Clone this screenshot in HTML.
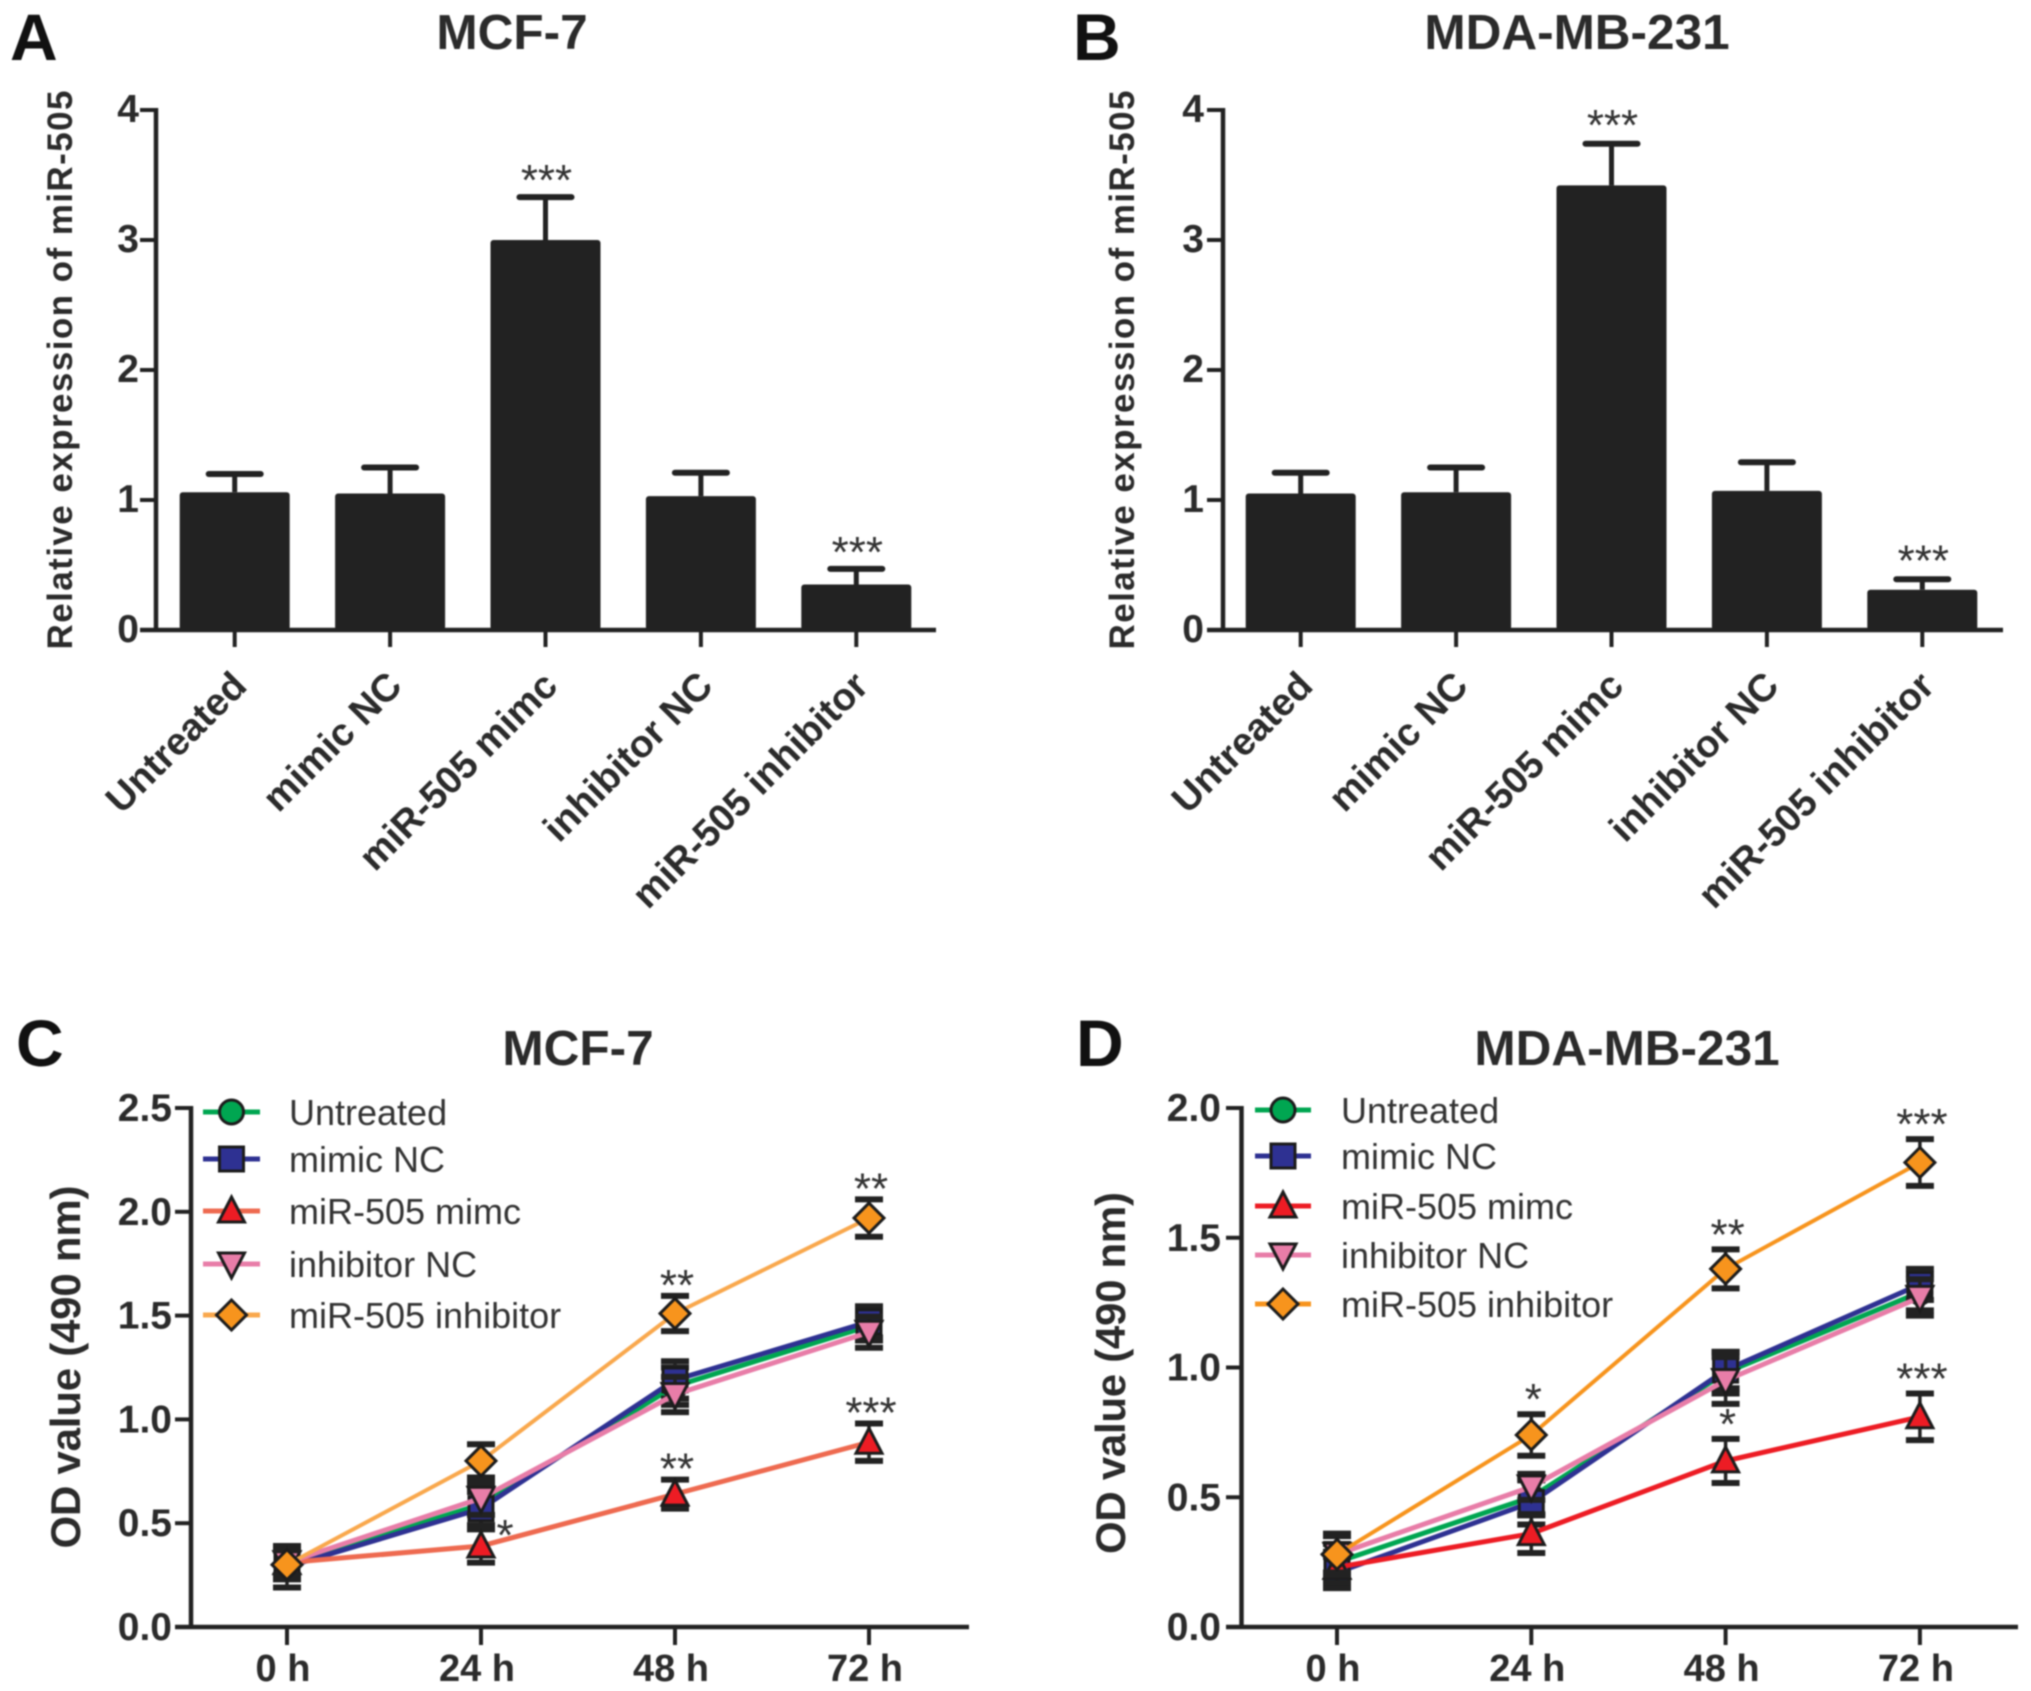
<!DOCTYPE html>
<html lang="en">
<head>
<meta charset="utf-8">
<title>miR-505 expression and cell viability</title>
<style>
html,body{margin:0;padding:0;background:#fff;width:2031px;height:1691px;overflow:hidden}
svg{display:block;filter:blur(0.7px)}
text{font-family:"Liberation Sans",Arial,sans-serif}
</style>
</head>
<body>
<svg id="figure" xmlns="http://www.w3.org/2000/svg" width="2031" height="1691" viewBox="0 0 2031 1691"></svg>
<script>
// ---------- Panel A / B data ----------
const barCategories = ['Untreated', 'mimic NC', 'miR-505 mimc', 'inhibitor NC', 'miR-505 inhibitor'];
const barTicks = [0, 1, 2, 3, 4];
const aMeans = [1.06, 1.05, 3.0, 1.03, 0.35];
const aUpper = [1.2, 1.25, 3.33, 1.21, 0.47];
const aStars = ['', '', '***', '', '***'];
const bMeans = [1.05, 1.06, 3.42, 1.07, 0.31];
const bUpper = [1.21, 1.25, 3.74, 1.29, 0.39];
const bStars = ['', '', '***', '', '***'];

// ---------- Panel C / D data ----------
const timeLabels = ['0 h', '24 h', '48 h', '72 h'];
const seriesNames = ['Untreated', 'mimic NC', 'miR-505 mimc', 'inhibitor NC', 'miR-505 inhibitor'];
const cTicks = [0, 0.5, 1, 1.5, 2, 2.5];
const cUntreated = [0.3, 0.59, 1.16, 1.45];
const cMimicNC = [0.29, 0.57, 1.19, 1.47];
const cMimic = [0.31, 0.39, 0.64, 0.89];
const cInhibitorNC = [0.31, 0.62, 1.12, 1.42];
const cInhibitor = [0.3, 0.8, 1.51, 1.97];
const cUntreatedErr = [0.07, 0.1, 0.09, 0.07];
const cMimicNCErr = [0.1, 0.08, 0.09, 0.075];
const cMimicErr = [0.07, 0.08, 0.07, 0.09];
const cInhibitorNCErr = [0.06, 0.08, 0.085, 0.075];
const cInhibitorErr = [0.07, 0.08, 0.085, 0.09];
const cInhibitorStars = ['', '', '**', '**'];
const cMimicStars = ['', '*', '**', '***'];
const dTicks = [0, 0.5, 1, 1.5, 2];
const dUntreated = [0.25, 0.5, 0.98, 1.29];
const dMimicNC = [0.21, 0.48, 0.99, 1.32];
const dMimic = [0.23, 0.36, 0.64, 0.81];
const dInhibitorNC = [0.28, 0.54, 0.95, 1.27];
const dInhibitor = [0.28, 0.74, 1.38, 1.79];
const dUntreatedErr = [0.07, 0.07, 0.08, 0.07];
const dMimicNCErr = [0.06, 0.085, 0.07, 0.06];
const dMimicErr = [0.06, 0.075, 0.085, 0.09];
const dInhibitorNCErr = [0.07, 0.05, 0.09, 0.07];
const dInhibitorErr = [0.08, 0.08, 0.075, 0.09];
const dInhibitorStars = ['', '*', '**', '***'];
const dMimicStars = ['', '', '*', '***'];

const svg = document.getElementById('figure');
const INK = '#222222';
const TXT = '#2b2b2b';

function mk(parent, tag, attrs, name, text) {
  const e = document.createElementNS('http://www.w3.org/2000/svg', tag);
  for (const k in attrs) e.setAttribute(k, attrs[k]);
  
  
  if (text !== undefined) e.textContent = text;
  parent.appendChild(e);
  return e;
}
function label(p, x, y, str, size, weight, anchor, name, extra) {
  return mk(p, 'text', Object.assign({x: x, y: y, 'font-size': size, 'font-weight': weight, 'text-anchor': anchor, fill: TXT}, extra || {}), name, str);
}
function stroke(p, x1, y1, x2, y2, w, name, color) {
  return mk(p, 'line', {x1: x1, y1: y1, x2: x2, y2: y2, stroke: color || INK, 'stroke-width': w, 'stroke-linecap': 'butt'}, name);
}

function frame(g, o) {
  label(g, o.letterX, o.letterY, o.letter, 66, 'bold', 'start', 'panel-letter', {fill: '#111'});
  label(g, o.titleX, o.titleY, o.title, 49.5, 'bold', 'middle', 'panel-title');
  const ylab = label(g, 0, 0, o.yTitle, o.yTitleSize, 'bold', 'middle', 'y-axis-title', {textLength: o.yTitleLen, lengthAdjust: 'spacing'});
  ylab.setAttribute('transform', 'translate(' + o.yTitleX + ',' + o.yTitleY + ') rotate(-90)');
  stroke(g, o.axisX, o.yTop - 2, o.axisX, o.yBase + 2, 4.5, 'y-axis-line');
  stroke(g, o.xStart, o.yBase, o.xEnd, o.yBase, 4.5, 'x-axis-line');
  const y = v => o.yBase - (v / o.yMax) * (o.yBase - o.yTop);
  o.ticks.forEach(t => {
    stroke(g, o.xStart, y(t), o.axisX, y(t), 4, 'y-tick');
    label(g, o.tickRight, y(t) + o.tickDy, t.toFixed(o.decimals), 39, 'bold', 'end', 'y-tick-label');
  });
  return y;
}

function barPanel(o) {
  const g = mk(svg, 'g', {}, o.name);
  const y = frame(g, o);
  const x = i => o.bandStart + o.step * (i + 0.5);
  barCategories.forEach((c, i) => {
    stroke(g, x(i), o.yBase, x(i), o.yBase + 17, 4, 'x-tick');
    stroke(g, x(i), y(o.upper[i]), x(i), y(o.means[i]), 5, 'error-bar-stem');
    mk(g, 'line', {x1: x(i) - 26, y1: y(o.upper[i]), x2: x(i) + 26, y2: y(o.upper[i]), stroke: INK, 'stroke-width': 6, 'stroke-linecap': 'round'}, 'error-bar-cap');
    mk(g, 'rect', {x: x(i) - 55, y: y(o.means[i]), width: 110, height: o.yBase - y(o.means[i]), fill: INK, rx: 3}, 'bar-' + c.toLowerCase().replace(/ /g, '-'));
    const px = x(i) + 14, py = o.yBase + 58;
    const t = label(g, 0, 0, c, 38.5, 'bold', 'end', 'x-tick-label');
    t.setAttribute('transform', 'translate(' + px + ',' + py + ') rotate(-45)');
    if (o.stars[i]) label(g, x(i) + 1, y(o.upper[i]) - o.starGap, o.stars[i], 44, 'normal', 'middle', 'significance-stars', {fill: '#333'});
  });
}

const markerFill = ['#00a651', '#2e3192', '#ed1c24', '#e87da8', '#f7941d'];
function marker(g, kind, cx, cy, fill, name) {
  const st = {fill: fill, stroke: '#1c1c1c', 'stroke-width': 3, 'stroke-linejoin': 'miter'};
  if (kind === 0) return mk(g, 'circle', Object.assign({cx: cx, cy: cy, r: 12}, st), name);
  if (kind === 1) return mk(g, 'rect', Object.assign({x: cx - 12, y: cy - 12, width: 24, height: 24}, st), name);
  let pts;
  if (kind === 2) pts = [[0, -14], [13, 11], [-13, 11]];
  if (kind === 3) pts = [[-13, -11], [13, -11], [0, 14]];
  if (kind === 4) pts = [[0, -15], [15, 0], [0, 15], [-15, 0]];
  return mk(g, 'polygon', Object.assign({points: pts.map(p => (cx + p[0]) + ',' + (cy + p[1])).join(' ')}, st), name);
}

function linePanel(o) {
  const g = mk(svg, 'g', {}, o.name);
  const y = frame(g, o);
  const x = i => o.x0 + o.step * i;
  timeLabels.forEach((t, i) => {
    stroke(g, x(i), o.yBase, x(i), o.yBase + 18, 4, 'x-tick');
    label(g, x(i) - 4, 1681, t, 38, 'bold', 'middle', 'x-tick-label');
  });
  o.series.forEach((vals, s) => {
    const sg = mk(g, 'g', {}, 'series-' + seriesNames[s].toLowerCase().replace(/ /g, '-'));
    mk(sg, 'polyline', {points: vals.map((v, i) => x(i) + ',' + y(v)).join(' '), fill: 'none', stroke: o.lineColors[s], 'stroke-width': s === 4 ? 4 : 5}, 'series-line');
    vals.forEach((v, i) => {
      const e = o.errs[s][i];
      stroke(sg, x(i), y(v + e), x(i), y(v - e), 3.5, 'error-bar-stem');
      stroke(sg, x(i) - 14, y(v + e), x(i) + 14, y(v + e), 6, 'error-bar-cap');
      stroke(sg, x(i) - 14, y(v - e), x(i) + 14, y(v - e), 6, 'error-bar-cap');
      marker(sg, s, x(i), y(v), markerFill[s], 'data-point');
    });
  });
  o.starSets.forEach(set => {
    set.marks.forEach((m, i) => {
      if (!m) return;
      const side = (o.sideStar === m && set.series === 2);
      const top = set.vals[i] + set.errs[i];
      label(g, x(i) + (side ? 24 : 2), side ? y(set.vals[i]) + 4 : y(top) + o.starGap, m, 44, 'normal', 'middle', 'significance-stars', {fill: '#333'});
    });
  });
  seriesNames.forEach((n, s) => {
    const r = o.legendRows[s];
    const lg = mk(g, 'g', {}, 'legend-entry');
    stroke(lg, o.legendLine[0], r, o.legendLine[1], r, 5, 'legend-line', o.lineColors[s]);
    marker(lg, s, (o.legendLine[0] + o.legendLine[1]) / 2, r, markerFill[s], 'legend-marker');
    label(lg, o.legendText, r + 13, n, 36, 'normal', 'start', 'legend-label', {fill: '#333'});
  });
}

barPanel({
  name: 'panel-a', letter: 'A', letterX: 10, letterY: 60, title: 'MCF-7', titleX: 512, titleY: 49,
  yTitle: 'Relative expression of miR-505', yTitleSize: 35, yTitleLen: 559, yTitleX: 72, yTitleY: 370,
  axisX: 156, xStart: 140, xEnd: 936, yTop: 110, yBase: 630, yMax: 4, ticks: barTicks, decimals: 0, tickRight: 139, tickDy: 12,
  bandStart: 157, step: 155.4, means: aMeans, upper: aUpper, stars: aStars, starGap: 2
});
barPanel({
  name: 'panel-b', letter: 'B', letterX: 1073, letterY: 60, title: 'MDA-MB-231', titleX: 1577, titleY: 49,
  yTitle: 'Relative expression of miR-505', yTitleSize: 35, yTitleLen: 559, yTitleX: 1134, yTitleY: 370,
  axisX: 1223, xStart: 1207, xEnd: 2003, yTop: 110, yBase: 630, yMax: 4, ticks: barTicks, decimals: 0, tickRight: 1204, tickDy: 12,
  bandStart: 1223, step: 155.4, means: bMeans, upper: bUpper, stars: bStars, starGap: 4
});
linePanel({
  name: 'panel-c', letter: 'C', letterX: 16, letterY: 1066, title: 'MCF-7', titleX: 578, titleY: 1065,
  yTitle: 'OD value (490 nm)', yTitleSize: 42, yTitleLen: 363, yTitleX: 80, yTitleY: 1367,
  axisX: 191, xStart: 175, xEnd: 969, yTop: 1108, yBase: 1627, yMax: 2.5, ticks: cTicks, decimals: 1, tickRight: 172, tickDy: 13,
  x0: 287, step: 194,
  series: [cUntreated, cMimicNC, cMimic, cInhibitorNC, cInhibitor],
  errs: [cUntreatedErr, cMimicNCErr, cMimicErr, cInhibitorNCErr, cInhibitorErr],
  lineColors: ['#00a651', '#2e3192', '#ee6a50', '#e87da8', '#f9a84d'],
  starSets: [
    {series: 4, marks: cInhibitorStars, vals: cInhibitor, errs: cInhibitorErr},
    {series: 2, marks: cMimicStars, vals: cMimic, errs: cMimicErr}
  ],
  sideStar: '*', starGap: 4,
  legendRows: [1112, 1159, 1211, 1264, 1315], legendLine: [203, 260], legendText: 289
});
linePanel({
  name: 'panel-d', letter: 'D', letterX: 1076, letterY: 1066, title: 'MDA-MB-231', titleX: 1627, titleY: 1065,
  yTitle: 'OD value (490 nm)', yTitleSize: 42, yTitleLen: 362, yTitleX: 1125, yTitleY: 1373,
  axisX: 1241.5, xStart: 1226, xEnd: 2018, yTop: 1108, yBase: 1627, yMax: 2, ticks: dTicks, decimals: 1, tickRight: 1221, tickDy: 13,
  x0: 1337, step: 194.3,
  series: [dUntreated, dMimicNC, dMimic, dInhibitorNC, dInhibitor],
  errs: [dUntreatedErr, dMimicNCErr, dMimicErr, dInhibitorNCErr, dInhibitorErr],
  lineColors: ['#00a651', '#2e3192', '#ed1c24', '#e87da8', '#f7941d'],
  starSets: [
    {series: 4, marks: dInhibitorStars, vals: dInhibitor, errs: dInhibitorErr},
    {series: 2, marks: dMimicStars, vals: dMimic, errs: dMimicErr}
  ],
  sideStar: '', starGap: 0,
  legendRows: [1110, 1156, 1206, 1255, 1304], legendLine: [1255, 1311], legendText: 1341
});
</script>
</body>
</html>
